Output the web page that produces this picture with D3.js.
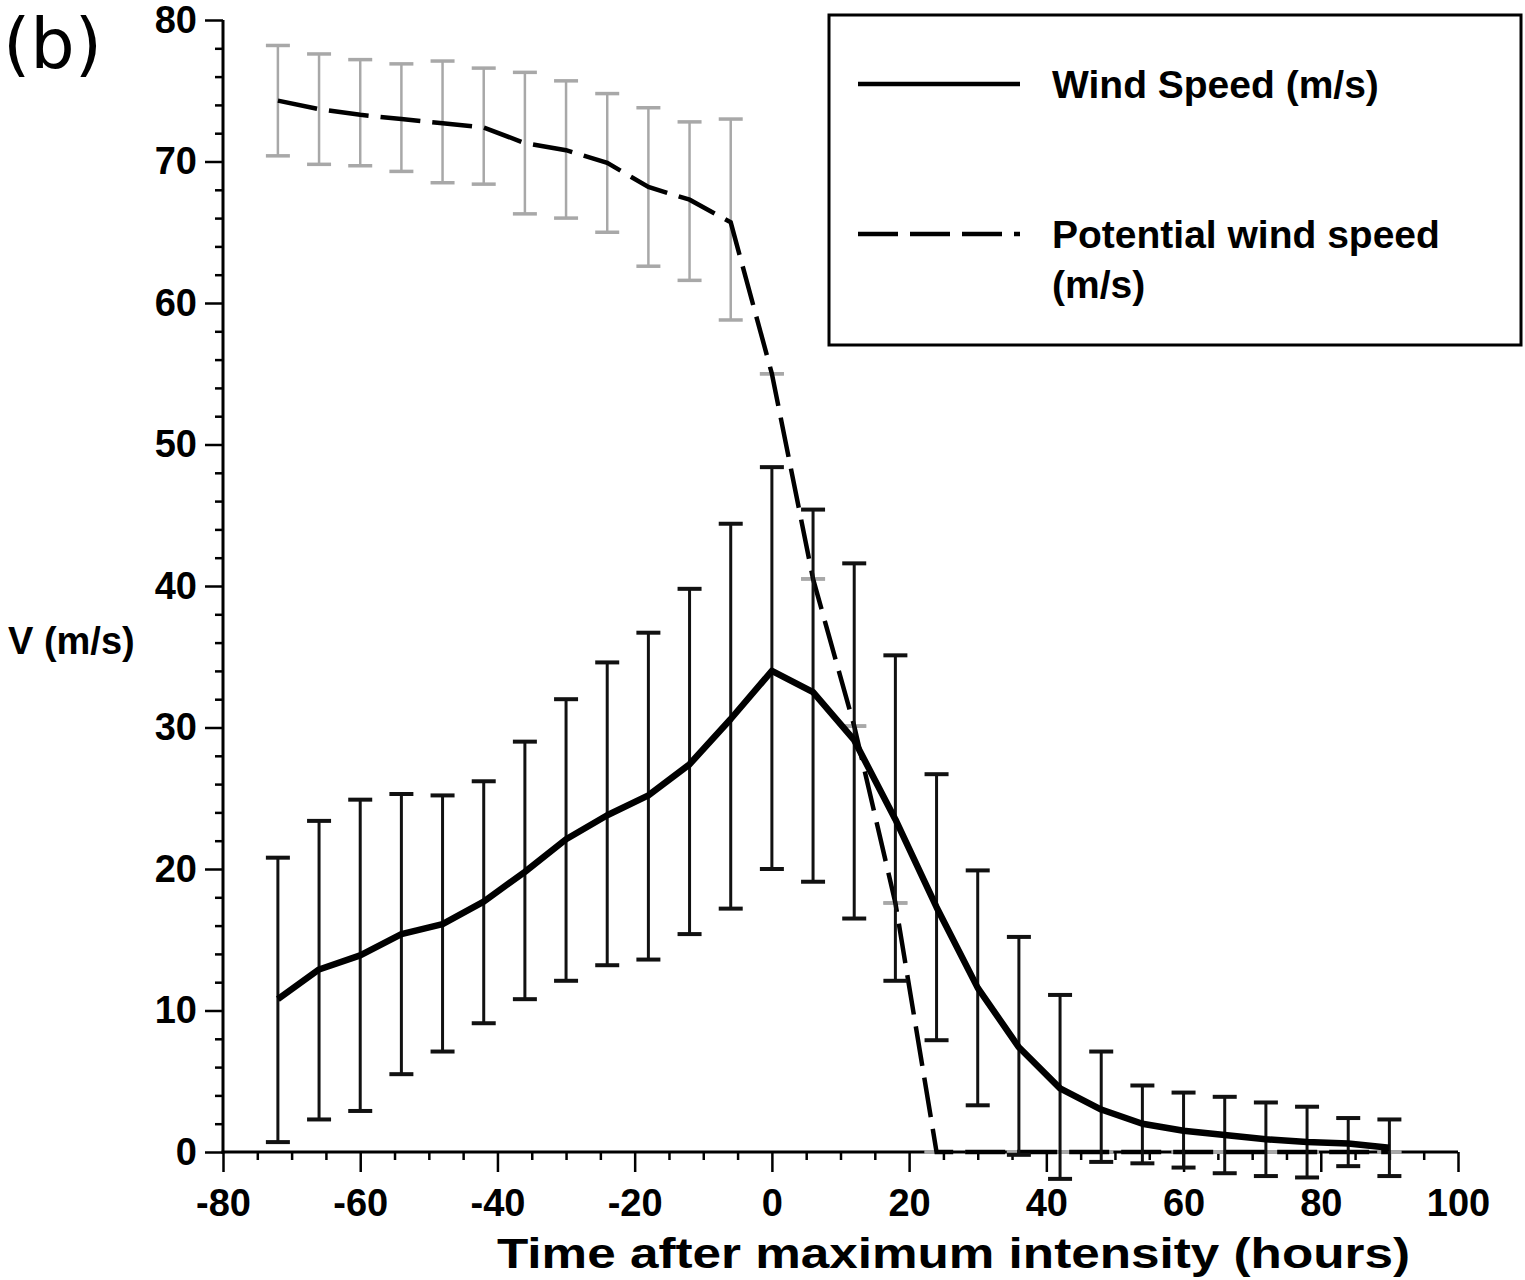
<!DOCTYPE html>
<html><head><meta charset="utf-8">
<script src="https://cdn.jsdelivr.net/npm/d3@7"></script>
<style>body{margin:0;background:#fff}</style>
</head><body>
<svg id="c" width="1525" height="1280"></svg>
<script>
// ---- data ----
const hours = [-72,-66,-60,-54,-48,-42,-36,-30,-24,-18,-12,-6,0,6,12,18,24,30,36,42,48,54,60,66,72,78,84,90];
const windSpeed = [10.8,12.9,13.9,15.4,16.1,17.7,19.8,22.1,23.8,25.2,27.4,30.6,34.0,32.5,29.1,23.5,17.3,11.6,7.4,4.5,3.0,2.0,1.5,1.2,0.9,0.7,0.6,0.3];
const windHigh  = [20.8,23.4,24.9,25.3,25.2,26.2,29.0,32.0,34.6,36.7,39.8,44.4,48.4,45.4,41.6,35.1,26.7,19.9,15.2,11.1,7.1,4.7,4.2,3.9,3.5,3.2,2.4,2.3];
const windLow   = [0.7,2.3,2.9,5.5,7.1,9.1,10.8,12.1,13.2,13.6,15.4,17.2,20.0,19.1,16.5,12.1,7.9,3.3,-0.2,-1.9,-0.7,-0.8,-1.1,-1.5,-1.7,-1.8,-1.0,-1.7];
const potential = [74.3,73.7,73.3,73.0,72.7,72.4,71.3,70.8,69.9,68.2,67.3,65.7,55.0,40.5,30.1,17.6,0,0,0,0,0,0,0,0,0,0,0,0];
const potHigh   = [78.2,77.6,77.2,76.9,77.1,76.6,76.3,75.7,74.8,73.8,72.8,73.0,55.0,40.5,30.1,17.6,0,0,0,0,0,0,0,0,0,0,0,0];
const potLow    = [70.4,69.8,69.7,69.3,68.5,68.4,66.3,66.0,65.0,62.6,61.6,58.8,55.0,40.5,30.1,17.6,0,0,0,0,0,0,0,0,0,0,0,0];
const xMajor = [-80,-60,-40,-20,0,20,40,60,80,100];
const xMinor = [-75,-70,-65,-55,-50,-45,-35,-30,-25,-15,-10,-5,5,10,15,25,30,35,45,50,55,65,70,75,85,90,95];
const yMajor = [0,10,20,30,40,50,60,70,80];
const yMinor = [2,4,6,8,12,14,16,18,22,24,26,28,32,34,36,38,42,44,46,48,52,54,56,58,62,64,66,68,72,74,76,78];
const legendItems = [
  {lines:["Wind Speed (m/s)"], dash:null},
  {lines:["Potential wind speed","(m/s)"], dash:"40,12"}
];

// ---- drawing ----
const FONT = "'Liberation Sans', Arial, sans-serif";
const svg = d3.select('#c');
const x = d3.scaleLinear().domain([-80,100]).range([223,1458]);
const y = d3.scaleLinear().domain([0,80]).range([1152,20]);
const X0 = x(-80), Y0 = y(0);

const windData = hours.map((h,i)=>({h, v:windSpeed[i], hi:windHigh[i], lo:windLow[i]}));
const potData = hours.map((h,i)=>({h, v:potential[i], hi:potHigh[i], lo:potLow[i]}));
const CAP = 12;

function errorBars(data, color, w, capW){
  const g = svg.append('g');
  g.selectAll('line.v').data(data).join('line')
    .attr('x1',d=>x(d.h)).attr('x2',d=>x(d.h))
    .attr('y1',d=>y(d.hi)).attr('y2',d=>y(d.lo))
    .attr('stroke',color).attr('stroke-width',w);
  g.selectAll('line.t').data(data).join('line')
    .attr('x1',d=>x(d.h)-CAP).attr('x2',d=>x(d.h)+CAP)
    .attr('y1',d=>y(d.hi)).attr('y2',d=>y(d.hi))
    .attr('stroke',color).attr('stroke-width',capW);
  g.selectAll('line.b').data(data).join('line')
    .attr('x1',d=>x(d.h)-CAP).attr('x2',d=>x(d.h)+CAP)
    .attr('y1',d=>y(d.lo)).attr('y2',d=>y(d.lo))
    .attr('stroke',color).attr('stroke-width',capW);
}

const fmt = d => String(d); // plain hyphen minus as in the figure

// axes
const axisStyle = g => {
  g.select('.domain').remove();
  g.selectAll('line').attr('stroke','#000').attr('stroke-width',2.5);
  g.selectAll('text').attr('font-family',FONT).attr('font-weight','bold').attr('font-size',38).attr('fill','#000');
};
svg.append('g').attr('transform',`translate(${X0},0)`)
  .call(d3.axisLeft(y).tickValues(yMinor).tickSize(8).tickFormat('')).call(axisStyle);
svg.append('g').attr('transform',`translate(${X0},0)`)
  .call(d3.axisLeft(y).tickValues(yMajor).tickSize(18).tickPadding(8).tickFormat(fmt)).call(axisStyle);
svg.append('g').attr('transform',`translate(0,${Y0})`)
  .call(d3.axisBottom(x).tickValues(xMinor).tickSize(8).tickFormat('')).call(axisStyle);
svg.append('g').attr('transform',`translate(0,${Y0})`)
  .call(d3.axisBottom(x).tickValues(xMajor).tickSize(20).tickPadding(17).tickFormat(fmt)).call(axisStyle);

svg.append('line').attr('x1',X0).attr('x2',X0).attr('y1',y(80)).attr('y2',Y0+1.5).attr('stroke','#000').attr('stroke-width',3);
svg.append('line').attr('x1',X0-1.5).attr('x2',x(100)).attr('y1',Y0).attr('y2',Y0).attr('stroke','#000').attr('stroke-width',3);

// potential wind speed (grey error bars + dashed line)
errorBars(potData, '#a8a8a8', 2.5, 3.5);
svg.append('path').datum(potData)
  .attr('d', d3.line().x(d=>x(d.h)).y(d=>y(d.v)))
  .attr('fill','none').attr('stroke','#000').attr('stroke-width',4.5)
  .attr('stroke-dasharray','40,12');

// wind speed
errorBars(windData, '#111', 3, 4);
svg.append('path').datum(windData)
  .attr('d', d3.line().x(d=>x(d.h)).y(d=>y(d.v)))
  .attr('fill','none').attr('stroke','#000').attr('stroke-width',6.5).attr('stroke-linejoin','round');

// labels
svg.append('text').attr('x',497).attr('y',1268)
  .attr('textLength',913).attr('lengthAdjust','spacingAndGlyphs')
  .attr('font-family',FONT).attr('font-weight','bold').attr('font-size',43).text('Time after maximum intensity (hours)');
svg.append('text').attr('x',8).attr('y',654)
  .attr('font-family',FONT).attr('font-weight','bold').attr('font-size',38).text('V (m/s)');
svg.append('text').attr('x',3).attr('y',68)
  .attr('font-family',"'DejaVu Sans', sans-serif").attr('font-size',70).text('(b)');

// legend
const lg = svg.append('g');
lg.append('rect').attr('x',829).attr('y',15).attr('width',692).attr('height',330)
  .attr('fill','#fff').attr('stroke','#000').attr('stroke-width',3);
const legY = [84, 234];
legendItems.forEach((it,i)=>{
  lg.append('line').attr('x1',858).attr('x2',1020).attr('y1',legY[i]).attr('y2',legY[i])
    .attr('stroke','#000').attr('stroke-width',4.5).attr('stroke-dasharray',it.dash);
  it.lines.forEach((t,j)=>{
    lg.append('text').attr('x',1052).attr('y',legY[i]+14+j*50)
      .attr('font-family',FONT).attr('font-weight','bold').attr('font-size',39).text(t);
  });
});
</script>
</body></html>
